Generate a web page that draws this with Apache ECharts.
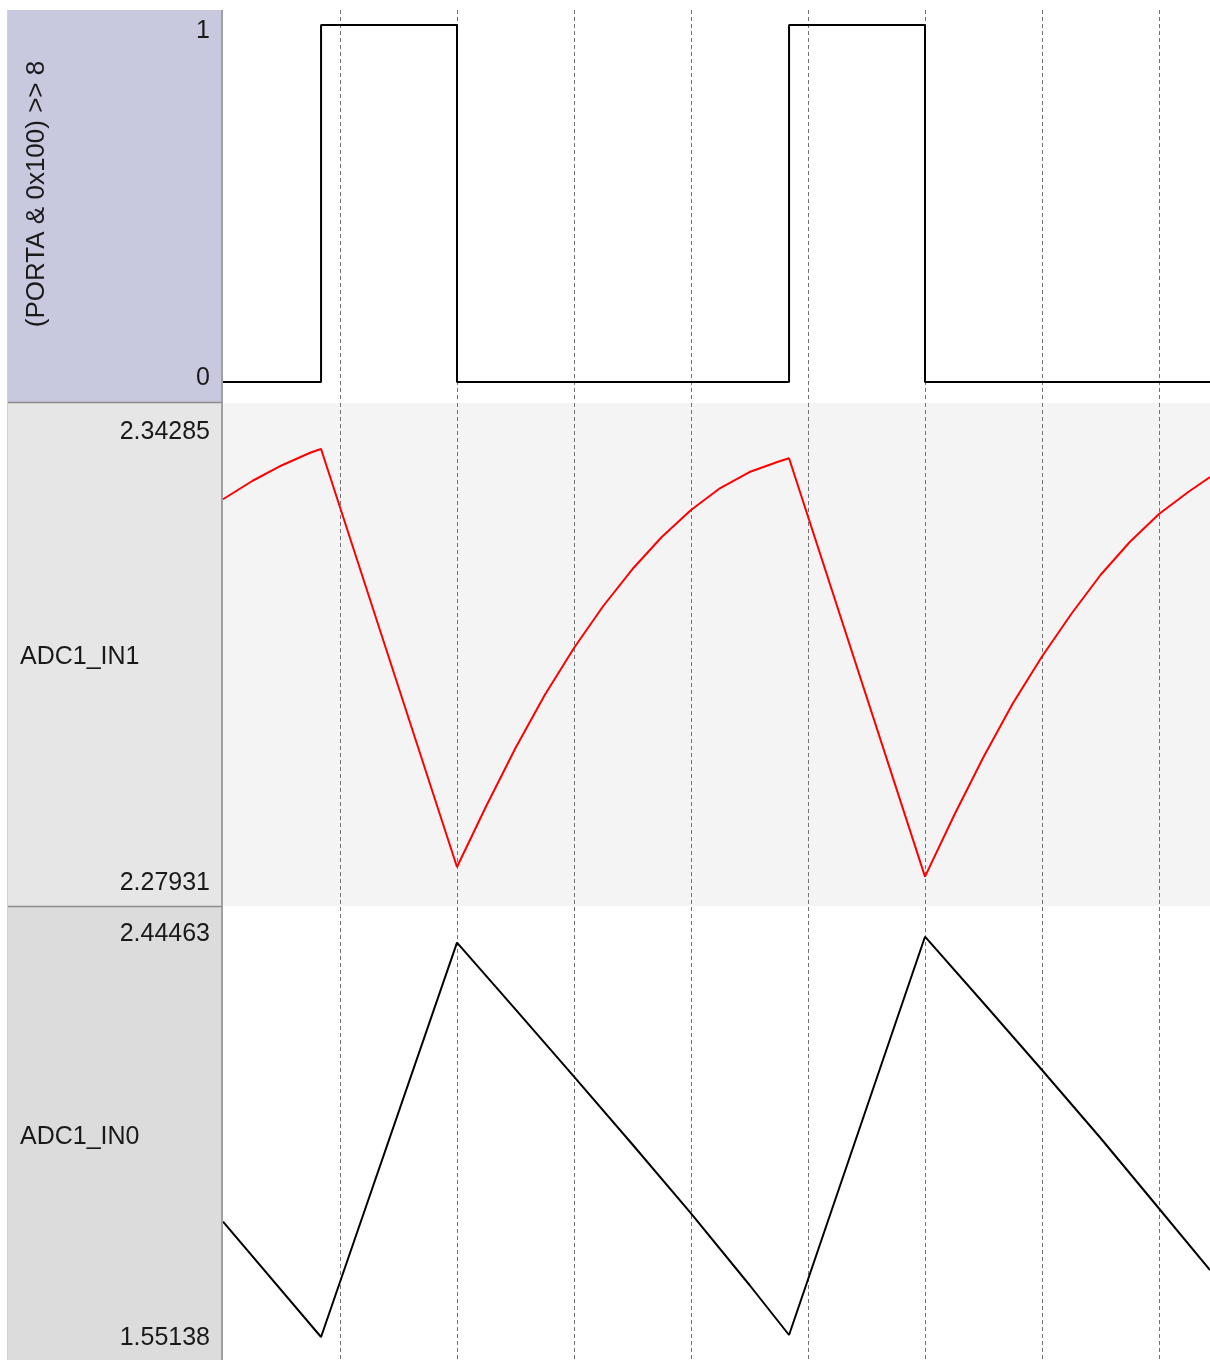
<!DOCTYPE html>
<html>
<head>
<meta charset="utf-8">
<style>
html,body{margin:0;padding:0;background:#fff;}
#chart{width:1210px;height:1360px;}
</style>
<script src="https://cdn.jsdelivr.net/npm/echarts@6/dist/echarts.min.js"></script>
</head>
<body>
<div id="chart"></div>
<script>
// ---- Data (time in grid-division units) ----
const panelNames = ['(PORTA & 0x100) >> 8', 'ADC1_IN1', 'ADC1_IN0'];

// Digital signal (PORTA & 0x100) >> 8
const digitalTimes  = [0, 0.838, 0.838, 2.0, 2.0, 4.838, 4.838, 6.0, 6.0, 8.436];
const digitalLevels = [0, 0, 1, 1, 0, 0, 1, 1, 0, 0];
const digitalTicks  = [0, 1];

// ADC1_IN1 (red)
const in1Times = [0, 0.25, 0.5, 0.75, 0.838, 2.0, 2.25, 2.5, 2.75, 3.0, 3.25, 3.5, 3.75, 4.0, 4.25, 4.5, 4.75, 4.838, 6.0, 6.25, 6.5, 6.75, 7.0, 7.25, 7.5, 7.75, 8.0, 8.25, 8.436];
const in1Values = [2.33321, 2.33579, 2.33798, 2.33981, 2.34031, 2.28129, 2.28990, 2.29809, 2.30557, 2.31221, 2.31814, 2.32336, 2.32788, 2.33170, 2.33480, 2.33706, 2.33854, 2.33900, 2.27992, 2.28863, 2.29682, 2.30437, 2.31101, 2.31701, 2.32252, 2.32718, 2.33113, 2.33424, 2.33635];
const in1Ticks = [2.27931, 2.34285];

// ADC1_IN0 (black)
const in0Times  = [0, 0.838, 2.0, 2.5, 3.0, 3.5, 4.0, 4.5, 4.838, 6.0, 6.5, 7.0, 7.5, 8.0, 8.436];
const in0Values = [1.80758, 1.55138, 2.42752, 2.27954, 2.12977, 1.97912, 1.82625, 1.66693, 1.55583, 2.44085, 2.29353, 2.14466, 1.99356, 1.83691, 1.70026];
const in0Ticks = [1.55138, 2.44463];

const xMax = 987 / 117;

function pairs(xs, ys) { return xs.map((x, i) => [x, ys[i]]); }

const FONT = 'Liberation Sans, Arial, sans-serif';
const labelStyle = { color: '#1a1a1a', fontSize: 25, fontFamily: FONT, margin: 13 };

function xAxisFor(idx) {
  return {
    type: 'value', gridIndex: idx, min: 0, max: xMax, interval: 1,
    axisLine: { show: false }, axisTick: { show: false }, axisLabel: { show: false },
    splitLine: { show: true, showMinLine: false, showMaxLine: false,
      lineStyle: { color: '#727272', width: 1, type: [4, 3] } }
  };
}
function hiddenY(idx, min, max) {
  return { type: 'value', gridIndex: idx, min: min, max: max,
    axisLine: { show: false }, axisTick: { show: false }, axisLabel: { show: false }, splitLine: { show: false } };
}
function labelY(idx, min, max, ticks, fmt) {
  return { type: 'value', gridIndex: idx, min: min, max: max, position: 'left',
    axisLine: { show: false }, axisTick: { show: false }, splitLine: { show: false },
    axisLabel: Object.assign({ show: true, customValues: ticks, formatter: fmt, showMinLabel: true, showMaxLabel: true }, labelStyle) };
}

// panel 2 / 3 scale factors (value per pixel)
const k1 = 0.0001412, k1L = (in1Ticks[1] - in1Ticks[0]) / 451;
const k2 = 0.00222201, k2L = (in0Ticks[1] - in0Ticks[0]) / 404;

const chart = echarts.init(document.getElementById('chart'), null, { renderer: 'canvas' });
const option = {
  animation: false,
  backgroundColor: '#ffffff',
  grid: [
    { left: 223, top: 10, width: 987, height: 392, show: true, backgroundColor: '#ffffff', borderWidth: 0 },
    { left: 223, top: 403, width: 987, height: 503, show: true, backgroundColor: '#f4f4f4', borderWidth: 0 },
    { left: 223, top: 907, width: 987, height: 453, show: true, backgroundColor: '#ffffff', borderWidth: 0 }
  ],
  xAxis: [xAxisFor(0), xAxisFor(1), xAxisFor(2)],
  yAxis: [
    hiddenY(0, -20 / 357, 1 + 15 / 357),
    labelY(0, -23.5 / 347, 1 + 21.5 / 347, digitalTicks, v => String(Math.round(v))),
    hiddenY(1, 2.34285 - 475 * k1, 2.34285 + 28 * k1),
    labelY(1, 2.27931 - 23 * k1L, 2.34285 + 29 * k1L, in1Ticks, v => v.toFixed(5)),
    hiddenY(2, 2.44463 - 425 * k2, 2.44463 + 28 * k2),
    labelY(2, 1.55138 - 21.5 * k2L, 2.44463 + 27.5 * k2L, in0Ticks, v => v.toFixed(5))
  ],
  graphic: [
    { type: 'rect', z: -10, shape: { x: 8, y: 10, width: 214, height: 392 }, style: { fill: '#c8c9de' } },
    { type: 'rect', z: -10, shape: { x: 8, y: 403, width: 214, height: 503 }, style: { fill: '#e6e6e6' } },
    { type: 'rect', z: -10, shape: { x: 8, y: 907, width: 214, height: 453 }, style: { fill: '#dcdcdc' } },
    { type: 'line', z: 10, shape: { x1: 7.5, y1: 10, x2: 7.5, y2: 1360 }, style: { stroke: '#d0d0d0', lineWidth: 1 } },
    { type: 'line', z: 10, shape: { x1: 222, y1: 10, x2: 222, y2: 1360 }, style: { stroke: '#a0a0a0', lineWidth: 2 } },
    { type: 'line', z: 10, shape: { x1: 8, y1: 402.5, x2: 222, y2: 402.5 }, style: { stroke: '#8c8c8c', lineWidth: 1.5 } },
    { type: 'line', z: 10, shape: { x1: 8, y1: 906.5, x2: 222, y2: 906.5 }, style: { stroke: '#8c8c8c', lineWidth: 1.5 } },
    { type: 'text', z: 10, x: 37, y: 194, rotation: Math.PI / 2,
      style: { text: panelNames[0], fill: '#1a1a1a', font: '26px ' + FONT, align: 'center', verticalAlign: 'middle' } },
    { type: 'text', z: 10, x: 20, y: 657,
      style: { text: panelNames[1], fill: '#1a1a1a', font: '25px ' + FONT, align: 'left', verticalAlign: 'middle' } },
    { type: 'text', z: 10, x: 20, y: 1137,
      style: { text: panelNames[2], fill: '#1a1a1a', font: '25px ' + FONT, align: 'left', verticalAlign: 'middle' } }
  ],
  series: [
    { type: 'line', xAxisIndex: 0, yAxisIndex: 0, data: pairs(digitalTimes, digitalLevels),
      showSymbol: false, lineStyle: { color: '#000000', width: 2 }, z: 5 },
    { type: 'line', xAxisIndex: 1, yAxisIndex: 2, data: pairs(in1Times, in1Values),
      showSymbol: false, lineStyle: { color: '#ff0000', width: 2 }, z: 5 },
    { type: 'line', xAxisIndex: 2, yAxisIndex: 4, data: pairs(in0Times, in0Values),
      showSymbol: false, lineStyle: { color: '#000000', width: 2 }, z: 5 }
  ]
};
chart.setOption(option);
</script>
</body>
</html>
